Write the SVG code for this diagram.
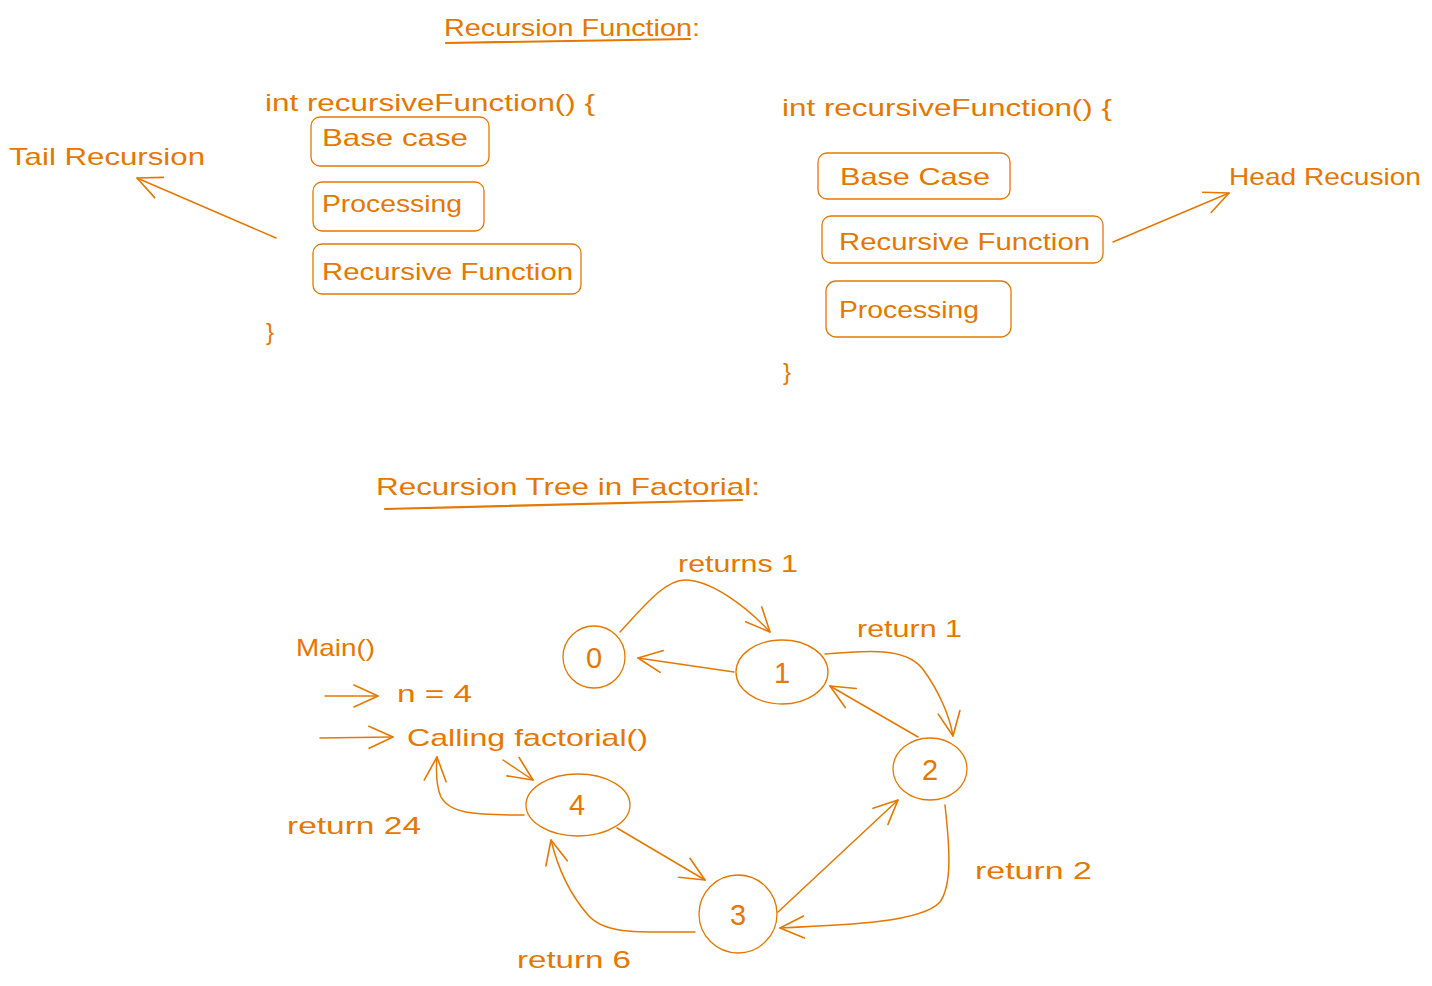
<svg xmlns="http://www.w3.org/2000/svg" width="1432" height="986" viewBox="0 0 1432 986">
<defs>
<style>
.t{font-family:"Liberation Sans","DejaVu Sans",sans-serif;font-size:24px;fill:#e67700}
.c{text-anchor:middle;font-size:29px}
.box{fill:none;stroke:#e67700;stroke-width:1.3}
.ln{fill:none;stroke:#e67700;stroke-width:1.5;stroke-linecap:round}
.ul{fill:none;stroke:#e67700;stroke-width:2.2;stroke-linecap:round}
.arr{marker-end:url(#ah)}
</style>
<marker id="ah" markerUnits="userSpaceOnUse" markerWidth="30" markerHeight="30" viewBox="0 0 30 30" refX="28" refY="15" orient="auto">
<path d="M4,4 L28,15 L4,26" fill="none" stroke="#e67700" stroke-width="1.6" stroke-linecap="round" stroke-linejoin="round"/>
</marker>
</defs>
<rect width="1432" height="986" fill="#ffffff"/>

<g id="title1">
<text class="t" x="444" y="36" textLength="256" lengthAdjust="spacingAndGlyphs">Recursion Function:</text>
<path class="ul" d="M446,43 L690,39"/>
</g>

<g id="left-code">
<text class="t" x="265" y="111" textLength="330" lengthAdjust="spacingAndGlyphs">int recursiveFunction() {</text>
<text class="t" x="266" y="340">}</text>
</g>
<g id="left-base"><rect class="box" x="311" y="117" width="178" height="49" rx="9"/><text class="t" x="322" y="146" textLength="146" lengthAdjust="spacingAndGlyphs">Base case</text></g>
<g id="left-proc"><rect class="box" x="313" y="182" width="171" height="49" rx="9"/><text class="t" x="322" y="212" textLength="140" lengthAdjust="spacingAndGlyphs">Processing</text></g>
<g id="left-rec"><rect class="box" x="313" y="244" width="268" height="50" rx="9"/><text class="t" x="322" y="280" textLength="251" lengthAdjust="spacingAndGlyphs">Recursive Function</text></g>
<g id="tail"><text class="t" x="9" y="165" textLength="196" lengthAdjust="spacingAndGlyphs">Tail Recursion</text></g>

<g id="right-code">
<text class="t" x="782" y="116" textLength="330" lengthAdjust="spacingAndGlyphs">int recursiveFunction() {</text>
<text class="t" x="783" y="380">}</text>
</g>
<g id="right-base"><rect class="box" x="818" y="153" width="192" height="46" rx="9"/><text class="t" x="840" y="185" textLength="150" lengthAdjust="spacingAndGlyphs">Base Case</text></g>
<g id="right-rec"><rect class="box" x="822" y="216" width="281" height="47" rx="9"/><text class="t" x="839" y="250" textLength="251" lengthAdjust="spacingAndGlyphs">Recursive Function</text></g>
<g id="right-proc"><rect class="box" x="826" y="281" width="185" height="56" rx="10"/><text class="t" x="839" y="318" textLength="140" lengthAdjust="spacingAndGlyphs">Processing</text></g>
<g id="head"><text class="t" x="1229" y="185" textLength="192" lengthAdjust="spacingAndGlyphs">Head Recusion</text></g>

<g id="title2">
<text class="t" x="376" y="495" textLength="384" lengthAdjust="spacingAndGlyphs">Recursion Tree in Factorial:</text>
<path class="ul" d="M385,509 L742,500"/>
</g>

<g id="main">
<text class="t" x="296" y="656" textLength="79" lengthAdjust="spacingAndGlyphs">Main()</text>
<text class="t" x="397" y="702" textLength="75" lengthAdjust="spacingAndGlyphs">n = 4</text>
<text class="t" x="407" y="746" textLength="241" lengthAdjust="spacingAndGlyphs">Calling factorial()</text>
</g>

<g id="n0"><ellipse class="box" cx="594" cy="657" rx="31" ry="31"/><text class="t c" x="594" y="668">0</text></g>
<g id="n1"><ellipse class="box" cx="782" cy="672" rx="46" ry="32"/><text class="t c" x="782" y="683">1</text></g>
<g id="n2"><ellipse class="box" cx="930" cy="769" rx="37" ry="31"/><text class="t c" x="930" y="780">2</text></g>
<g id="n4"><ellipse class="box" cx="578" cy="805" rx="52" ry="31"/><text class="t c" x="577" y="815">4</text></g>
<g id="n3"><ellipse class="box" cx="738" cy="914" rx="39" ry="39"/><text class="t c" x="738" y="925">3</text></g>

<g id="labels">
<text class="t" x="678" y="572" textLength="120" lengthAdjust="spacingAndGlyphs">returns 1</text>
<text class="t" x="857" y="637" textLength="105" lengthAdjust="spacingAndGlyphs">return 1</text>
<text class="t" x="975" y="879" textLength="117" lengthAdjust="spacingAndGlyphs">return 2</text>
<text class="t" x="287" y="834" textLength="134" lengthAdjust="spacingAndGlyphs">return 24</text>
<text class="t" x="517" y="968" textLength="114" lengthAdjust="spacingAndGlyphs">return 6</text>
</g>

<g id="connectors">
<path class="ln arr" d="M276,238 L137,178"/>
<path class="ln arr" d="M1113,242 L1229,193"/>
<path class="ln arr" d="M325,696 L378,696"/>
<path class="ln arr" d="M320,738 L393,737"/>
<path class="ln arr" d="M620,632 C645,605 665,580 685,580 C710,580 745,605 770,632"/>
<path class="ln arr" d="M734,672 L638,658"/>
<path class="ln arr" d="M825,654 C870,650 905,648 922,668 C940,692 950,718 953,736"/>
<path class="ln arr" d="M918,737 L830,686"/>
<path class="ln arr" d="M945,805 C950,850 952,885 940,902 C922,922 850,925 780,928"/>
<path class="ln arr" d="M778,912 L898,800"/>
<path class="ln arr" d="M617,828 L705,880"/>
<path class="ln arr" d="M695,932 C640,932 605,935 588,915 C568,892 557,865 551,840"/>
<path class="ln arr" d="M524,815 C470,815 450,813 441,797 C436,786 436,770 437,757"/>
<path class="ln arr" d="M503,760 L533,780"/>
</g>
</svg>
